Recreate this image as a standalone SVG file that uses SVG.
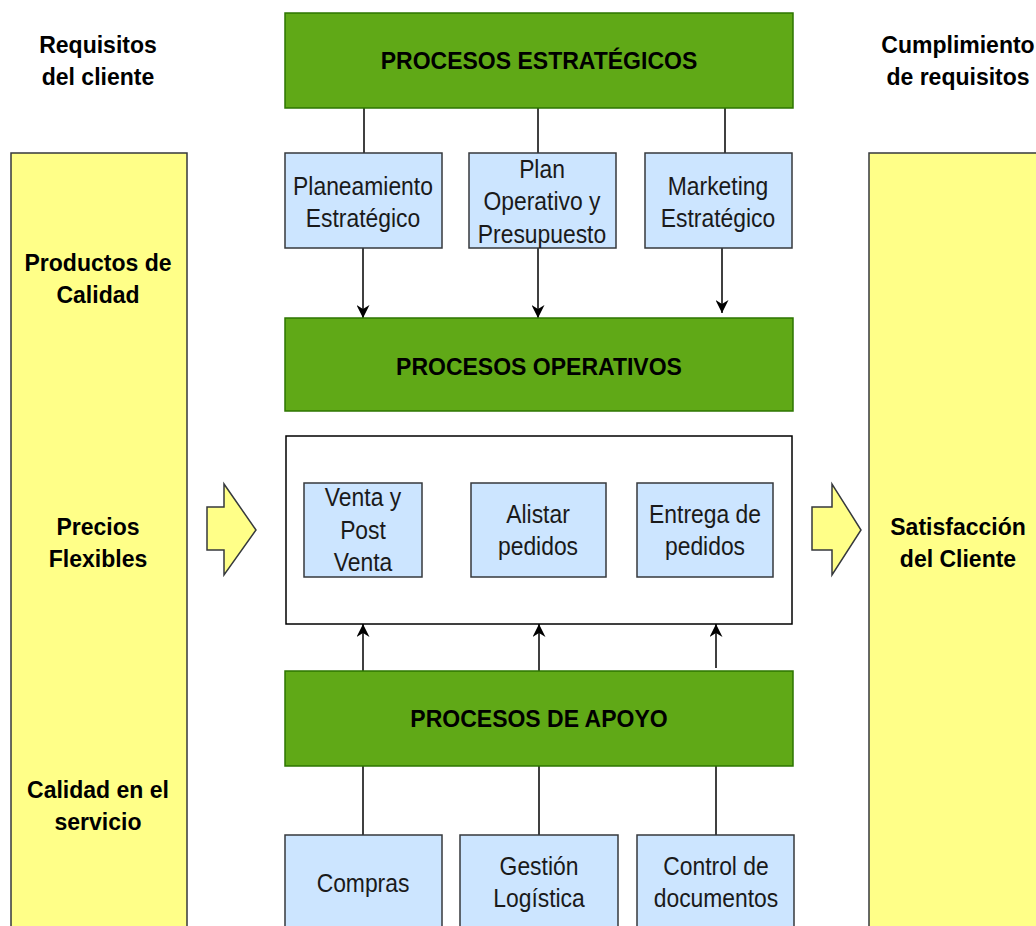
<svg xmlns="http://www.w3.org/2000/svg" width="1036" height="926" viewBox="0 0 1036 926">
<style>
.g{fill:#60a917;stroke:#2d7600;stroke-width:1.5}
.b{fill:#cce5ff;stroke:#36393d;stroke-width:1.5}
.y{fill:#ffff88;stroke:#36393d;stroke-width:1.5}
.w{fill:#ffffff;stroke:#000000;stroke-width:1.5}
.t{font-family:"Liberation Sans",Arial,sans-serif;font-size:26px;fill:#1a1a1a;text-anchor:middle}
.h{font-family:"Liberation Sans",Arial,sans-serif;font-size:23px;font-weight:bold;fill:#000;text-anchor:middle}
.c{stroke:#000;stroke-width:1.5;fill:none}
</style>
<defs>
<marker id="arr" viewBox="0 0 10 10" refX="10" refY="5" markerWidth="13" markerHeight="13" markerUnits="userSpaceOnUse" orient="auto">
<path d="M0,0 L10,5 L0,10 L3,5 Z" fill="#000"/>
</marker>
</defs>
<rect width="1036" height="926" fill="#fff"/>

<g id="left-col">
<rect class="y" x="11" y="153" width="176" height="790"/>
<text class="h" x="98" y="53">Requisitos</text>
<text class="h" x="98" y="85">del cliente</text>
<text class="h" x="98" y="271">Productos de</text>
<text class="h" x="98" y="303">Calidad</text>
<text class="h" x="98" y="535">Precios</text>
<text class="h" x="98" y="567">Flexibles</text>
<text class="h" x="98" y="798">Calidad en el</text>
<text class="h" x="98" y="830">servicio</text>
</g>

<g id="right-col">
<rect class="y" x="869" y="153" width="180" height="790"/>
<text class="h" x="958" y="53">Cumplimiento</text>
<text class="h" x="958" y="85">de requisitos</text>
<text class="h" x="958" y="535">Satisfacción</text>
<text class="h" x="958" y="567">del Cliente</text>
</g>

<g id="arrow-in"><polygon class="y" points="207,507 224,507 224,484 256,530 224,575 224,550 207,550"/></g>
<g id="arrow-out"><polygon class="y" points="812,507 832,507 832,484 861,530 832,575 832,550 812,550"/></g>

<g id="connectors">
<line class="c" x1="364" y1="108" x2="364" y2="153"/>
<line class="c" x1="538" y1="108" x2="538" y2="153"/>
<line class="c" x1="725" y1="108" x2="725" y2="153"/>
<line class="c" x1="363" y1="248" x2="363" y2="318" marker-end="url(#arr)"/>
<line class="c" x1="538" y1="248" x2="538" y2="318" marker-end="url(#arr)"/>
<line class="c" x1="722" y1="248" x2="722" y2="313" marker-end="url(#arr)"/>
<line class="c" x1="363" y1="671" x2="363" y2="624" marker-end="url(#arr)"/>
<line class="c" x1="539" y1="671" x2="539" y2="624" marker-end="url(#arr)"/>
<line class="c" x1="716" y1="668" x2="716" y2="624" marker-end="url(#arr)"/>
<line class="c" x1="363" y1="766" x2="363" y2="835"/>
<line class="c" x1="539" y1="766" x2="539" y2="835"/>
<line class="c" x1="716" y1="766" x2="716" y2="835"/>
</g>

<g id="estrategicos">
<rect class="g" x="285" y="13" width="508" height="95"/>
<text class="h" x="539" y="69">PROCESOS ESTRATÉGICOS</text>
</g>
<g id="planeamiento">
<rect class="b" x="285" y="153" width="157" height="95"/>
<text class="t" transform="translate(363,0) scale(0.88,1)" y="195">Planeamiento</text>
<text class="t" transform="translate(363,0) scale(0.88,1)" y="227">Estratégico</text>
</g>
<g id="plan-operativo">
<rect class="b" x="469" y="153" width="147" height="95"/>
<text class="t" transform="translate(542,0) scale(0.88,1)" y="178">Plan</text>
<text class="t" transform="translate(542,0) scale(0.88,1)" y="210">Operativo y</text>
<text class="t" transform="translate(542,0) scale(0.88,1)" y="243">Presupuesto</text>
</g>
<g id="marketing">
<rect class="b" x="645" y="153" width="147" height="95"/>
<text class="t" transform="translate(718,0) scale(0.88,1)" y="195">Marketing</text>
<text class="t" transform="translate(718,0) scale(0.88,1)" y="227">Estratégico</text>
</g>

<g id="operativos">
<rect class="g" x="285" y="318" width="508" height="93"/>
<text class="h" x="539" y="375">PROCESOS OPERATIVOS</text>
</g>

<g id="operativos-detalle">
<rect class="w" x="286" y="436" width="506" height="188"/>
</g>
<g id="venta">
<rect class="b" x="304" y="483" width="118" height="94"/>
<text class="t" transform="translate(363,0) scale(0.88,1)" y="506">Venta y</text>
<text class="t" transform="translate(363,0) scale(0.88,1)" y="539">Post</text>
<text class="t" transform="translate(363,0) scale(0.88,1)" y="571">Venta</text>
</g>
<g id="alistar">
<rect class="b" x="471" y="483" width="135" height="94"/>
<text class="t" transform="translate(538,0) scale(0.88,1)" y="523">Alistar</text>
<text class="t" transform="translate(538,0) scale(0.88,1)" y="555">pedidos</text>
</g>
<g id="entrega">
<rect class="b" x="637" y="483" width="136" height="94"/>
<text class="t" transform="translate(705,0) scale(0.88,1)" y="523">Entrega de</text>
<text class="t" transform="translate(705,0) scale(0.88,1)" y="555">pedidos</text>
</g>

<g id="apoyo">
<rect class="g" x="285" y="671" width="508" height="95"/>
<text class="h" x="539" y="727">PROCESOS DE APOYO</text>
</g>
<g id="compras">
<rect class="b" x="285" y="835" width="157" height="110"/>
<text class="t" transform="translate(363,0) scale(0.88,1)" y="892">Compras</text>
</g>
<g id="gestion">
<rect class="b" x="460" y="835" width="158" height="110"/>
<text class="t" transform="translate(539,0) scale(0.88,1)" y="875">Gestión</text>
<text class="t" transform="translate(539,0) scale(0.88,1)" y="907">Logística</text>
</g>
<g id="control">
<rect class="b" x="637" y="835" width="157" height="110"/>
<text class="t" transform="translate(716,0) scale(0.88,1)" y="875">Control de</text>
<text class="t" transform="translate(716,0) scale(0.88,1)" y="907">documentos</text>
</g>
</svg>
